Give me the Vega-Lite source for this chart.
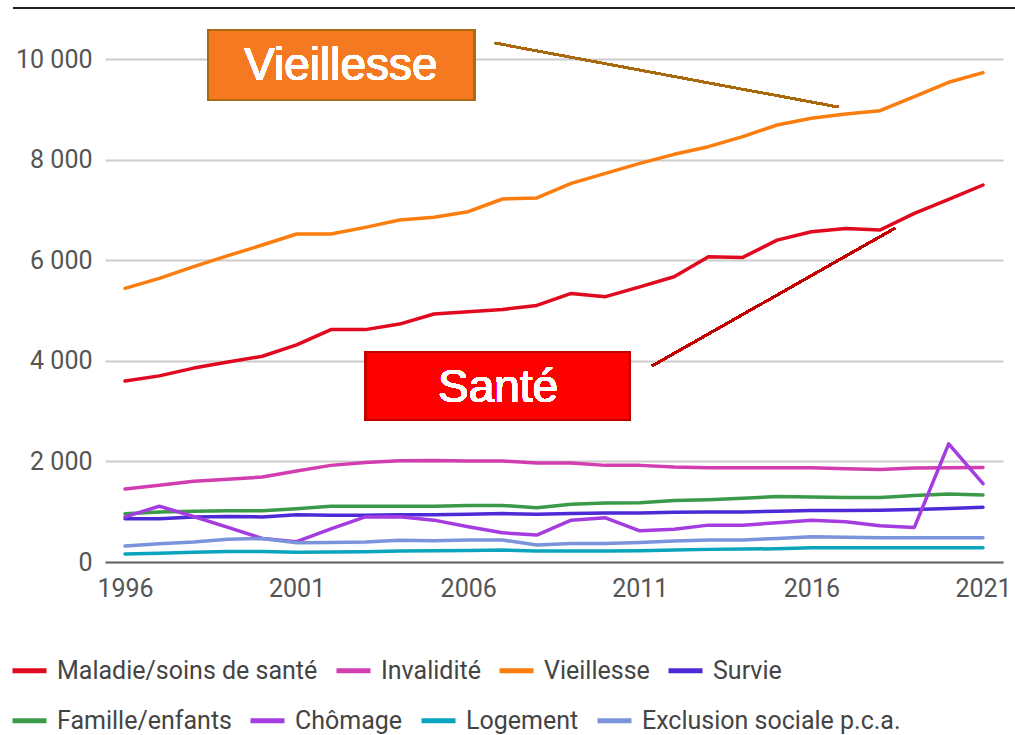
{
  "$schema": "https://vega.github.io/schema/vega-lite/v6.json",
  "autosize": {"type": "none"},
  "width": 898,
  "height": 503,
  "padding": {"left": 105, "top": 59, "right": 12, "bottom": 173},
  "background": "white",
  "config": {
    "view": {"stroke": null},
    "font": "Roboto",
    "legend": {
      "orient": "none",
      "direction": "horizontal",
      "symbolType": "stroke",
      "symbolSize": 1156,
      "symbolStrokeWidth": 5,
      "labelFont": "Roboto",
      "labelFontSize": 25,
      "labelColor": "#444444",
      "labelOffset": 8,
      "labelLimit": 500,
      "columnPadding": 8,
      "padding": 0,
      "symbolOpacity": 1
    }
  },
  "data": {
    "values": [
      {"year": 1996, "cat": "Maladie/soins de santé", "value": 3600},
      {"year": 1997, "cat": "Maladie/soins de santé", "value": 3700},
      {"year": 1998, "cat": "Maladie/soins de santé", "value": 3855},
      {"year": 1999, "cat": "Maladie/soins de santé", "value": 3975},
      {"year": 2000, "cat": "Maladie/soins de santé", "value": 4090},
      {"year": 2001, "cat": "Maladie/soins de santé", "value": 4315},
      {"year": 2002, "cat": "Maladie/soins de santé", "value": 4620},
      {"year": 2003, "cat": "Maladie/soins de santé", "value": 4620},
      {"year": 2004, "cat": "Maladie/soins de santé", "value": 4730},
      {"year": 2005, "cat": "Maladie/soins de santé", "value": 4930},
      {"year": 2006, "cat": "Maladie/soins de santé", "value": 4975},
      {"year": 2007, "cat": "Maladie/soins de santé", "value": 5020},
      {"year": 2008, "cat": "Maladie/soins de santé", "value": 5100},
      {"year": 2009, "cat": "Maladie/soins de santé", "value": 5340},
      {"year": 2010, "cat": "Maladie/soins de santé", "value": 5275},
      {"year": 2011, "cat": "Maladie/soins de santé", "value": 5470},
      {"year": 2012, "cat": "Maladie/soins de santé", "value": 5670},
      {"year": 2013, "cat": "Maladie/soins de santé", "value": 6070},
      {"year": 2014, "cat": "Maladie/soins de santé", "value": 6055},
      {"year": 2015, "cat": "Maladie/soins de santé", "value": 6400},
      {"year": 2016, "cat": "Maladie/soins de santé", "value": 6565},
      {"year": 2017, "cat": "Maladie/soins de santé", "value": 6630},
      {"year": 2018, "cat": "Maladie/soins de santé", "value": 6600},
      {"year": 2019, "cat": "Maladie/soins de santé", "value": 6930},
      {"year": 2020, "cat": "Maladie/soins de santé", "value": 7210},
      {"year": 2021, "cat": "Maladie/soins de santé", "value": 7495},
      {"year": 1996, "cat": "Invalidité", "value": 1452},
      {"year": 1997, "cat": "Invalidité", "value": 1524},
      {"year": 1998, "cat": "Invalidité", "value": 1604},
      {"year": 1999, "cat": "Invalidité", "value": 1644},
      {"year": 2000, "cat": "Invalidité", "value": 1690},
      {"year": 2001, "cat": "Invalidité", "value": 1808},
      {"year": 2002, "cat": "Invalidité", "value": 1921},
      {"year": 2003, "cat": "Invalidité", "value": 1980},
      {"year": 2004, "cat": "Invalidité", "value": 2014},
      {"year": 2005, "cat": "Invalidité", "value": 2020},
      {"year": 2006, "cat": "Invalidité", "value": 2007},
      {"year": 2007, "cat": "Invalidité", "value": 2007},
      {"year": 2008, "cat": "Invalidité", "value": 1967},
      {"year": 2009, "cat": "Invalidité", "value": 1967},
      {"year": 2010, "cat": "Invalidité", "value": 1921},
      {"year": 2011, "cat": "Invalidité", "value": 1921},
      {"year": 2012, "cat": "Invalidité", "value": 1888},
      {"year": 2013, "cat": "Invalidité", "value": 1875},
      {"year": 2014, "cat": "Invalidité", "value": 1875},
      {"year": 2015, "cat": "Invalidité", "value": 1875},
      {"year": 2016, "cat": "Invalidité", "value": 1875},
      {"year": 2017, "cat": "Invalidité", "value": 1855},
      {"year": 2018, "cat": "Invalidité", "value": 1841},
      {"year": 2019, "cat": "Invalidité", "value": 1868},
      {"year": 2020, "cat": "Invalidité", "value": 1875},
      {"year": 2021, "cat": "Invalidité", "value": 1881},
      {"year": 1996, "cat": "Vieillesse", "value": 5441},
      {"year": 1997, "cat": "Vieillesse", "value": 5640},
      {"year": 1998, "cat": "Vieillesse", "value": 5871},
      {"year": 1999, "cat": "Vieillesse", "value": 6090},
      {"year": 2000, "cat": "Vieillesse", "value": 6302},
      {"year": 2001, "cat": "Vieillesse", "value": 6521},
      {"year": 2002, "cat": "Vieillesse", "value": 6521},
      {"year": 2003, "cat": "Vieillesse", "value": 6653},
      {"year": 2004, "cat": "Vieillesse", "value": 6799},
      {"year": 2005, "cat": "Vieillesse", "value": 6852},
      {"year": 2006, "cat": "Vieillesse", "value": 6964},
      {"year": 2007, "cat": "Vieillesse", "value": 7217},
      {"year": 2008, "cat": "Vieillesse", "value": 7237},
      {"year": 2009, "cat": "Vieillesse", "value": 7528},
      {"year": 2010, "cat": "Vieillesse", "value": 7727},
      {"year": 2011, "cat": "Vieillesse", "value": 7926},
      {"year": 2012, "cat": "Vieillesse", "value": 8105},
      {"year": 2013, "cat": "Vieillesse", "value": 8257},
      {"year": 2014, "cat": "Vieillesse", "value": 8456},
      {"year": 2015, "cat": "Vieillesse", "value": 8688},
      {"year": 2016, "cat": "Vieillesse", "value": 8821},
      {"year": 2017, "cat": "Vieillesse", "value": 8907},
      {"year": 2018, "cat": "Vieillesse", "value": 8973},
      {"year": 2019, "cat": "Vieillesse", "value": 9251},
      {"year": 2020, "cat": "Vieillesse", "value": 9537},
      {"year": 2021, "cat": "Vieillesse", "value": 9728},
      {"year": 1996, "cat": "Survie", "value": 860},
      {"year": 1997, "cat": "Survie", "value": 860},
      {"year": 1998, "cat": "Survie", "value": 897},
      {"year": 1999, "cat": "Survie", "value": 906},
      {"year": 2000, "cat": "Survie", "value": 897},
      {"year": 2001, "cat": "Survie", "value": 937},
      {"year": 2002, "cat": "Survie", "value": 930},
      {"year": 2003, "cat": "Survie", "value": 930},
      {"year": 2004, "cat": "Survie", "value": 937},
      {"year": 2005, "cat": "Survie", "value": 937},
      {"year": 2006, "cat": "Survie", "value": 950},
      {"year": 2007, "cat": "Survie", "value": 963},
      {"year": 2008, "cat": "Survie", "value": 950},
      {"year": 2009, "cat": "Survie", "value": 963},
      {"year": 2010, "cat": "Survie", "value": 976},
      {"year": 2011, "cat": "Survie", "value": 976},
      {"year": 2012, "cat": "Survie", "value": 990},
      {"year": 2013, "cat": "Survie", "value": 996},
      {"year": 2014, "cat": "Survie", "value": 996},
      {"year": 2015, "cat": "Survie", "value": 1010},
      {"year": 2016, "cat": "Survie", "value": 1023},
      {"year": 2017, "cat": "Survie", "value": 1023},
      {"year": 2018, "cat": "Survie", "value": 1030},
      {"year": 2019, "cat": "Survie", "value": 1043},
      {"year": 2020, "cat": "Survie", "value": 1063},
      {"year": 2021, "cat": "Survie", "value": 1089},
      {"year": 1996, "cat": "Famille/enfants", "value": 960},
      {"year": 1997, "cat": "Famille/enfants", "value": 993},
      {"year": 1998, "cat": "Famille/enfants", "value": 1010},
      {"year": 1999, "cat": "Famille/enfants", "value": 1020},
      {"year": 2000, "cat": "Famille/enfants", "value": 1020},
      {"year": 2001, "cat": "Famille/enfants", "value": 1060},
      {"year": 2002, "cat": "Famille/enfants", "value": 1110},
      {"year": 2003, "cat": "Famille/enfants", "value": 1110},
      {"year": 2004, "cat": "Famille/enfants", "value": 1110},
      {"year": 2005, "cat": "Famille/enfants", "value": 1110},
      {"year": 2006, "cat": "Famille/enfants", "value": 1125},
      {"year": 2007, "cat": "Famille/enfants", "value": 1125},
      {"year": 2008, "cat": "Famille/enfants", "value": 1080},
      {"year": 2009, "cat": "Famille/enfants", "value": 1150},
      {"year": 2010, "cat": "Famille/enfants", "value": 1175},
      {"year": 2011, "cat": "Famille/enfants", "value": 1180},
      {"year": 2012, "cat": "Famille/enfants", "value": 1225},
      {"year": 2013, "cat": "Famille/enfants", "value": 1240},
      {"year": 2014, "cat": "Famille/enfants", "value": 1266},
      {"year": 2015, "cat": "Famille/enfants", "value": 1300},
      {"year": 2016, "cat": "Famille/enfants", "value": 1290},
      {"year": 2017, "cat": "Famille/enfants", "value": 1280},
      {"year": 2018, "cat": "Famille/enfants", "value": 1280},
      {"year": 2019, "cat": "Famille/enfants", "value": 1320},
      {"year": 2020, "cat": "Famille/enfants", "value": 1353},
      {"year": 2021, "cat": "Famille/enfants", "value": 1333},
      {"year": 1996, "cat": "Chômage", "value": 897},
      {"year": 1997, "cat": "Chômage", "value": 1109},
      {"year": 1998, "cat": "Chômage", "value": 904},
      {"year": 1999, "cat": "Chômage", "value": 687},
      {"year": 2000, "cat": "Chômage", "value": 469},
      {"year": 2001, "cat": "Chômage", "value": 403},
      {"year": 2002, "cat": "Chômage", "value": 657},
      {"year": 2003, "cat": "Chômage", "value": 897},
      {"year": 2004, "cat": "Chômage", "value": 900},
      {"year": 2005, "cat": "Chômage", "value": 832},
      {"year": 2006, "cat": "Chômage", "value": 700},
      {"year": 2007, "cat": "Chômage", "value": 581},
      {"year": 2008, "cat": "Chômage", "value": 535},
      {"year": 2009, "cat": "Chômage", "value": 832},
      {"year": 2010, "cat": "Chômage", "value": 878},
      {"year": 2011, "cat": "Chômage", "value": 620},
      {"year": 2012, "cat": "Chômage", "value": 653},
      {"year": 2013, "cat": "Chômage", "value": 733},
      {"year": 2014, "cat": "Chômage", "value": 733},
      {"year": 2015, "cat": "Chômage", "value": 779},
      {"year": 2016, "cat": "Chômage", "value": 832},
      {"year": 2017, "cat": "Chômage", "value": 799},
      {"year": 2018, "cat": "Chômage", "value": 719},
      {"year": 2019, "cat": "Chômage", "value": 687},
      {"year": 2020, "cat": "Chômage", "value": 2350},
      {"year": 2021, "cat": "Chômage", "value": 1558},
      {"year": 1996, "cat": "Logement", "value": 158},
      {"year": 1997, "cat": "Logement", "value": 172},
      {"year": 1998, "cat": "Logement", "value": 192},
      {"year": 1999, "cat": "Logement", "value": 211},
      {"year": 2000, "cat": "Logement", "value": 211},
      {"year": 2001, "cat": "Logement", "value": 192},
      {"year": 2002, "cat": "Logement", "value": 198},
      {"year": 2003, "cat": "Logement", "value": 205},
      {"year": 2004, "cat": "Logement", "value": 218},
      {"year": 2005, "cat": "Logement", "value": 225},
      {"year": 2006, "cat": "Logement", "value": 231},
      {"year": 2007, "cat": "Logement", "value": 238},
      {"year": 2008, "cat": "Logement", "value": 218},
      {"year": 2009, "cat": "Logement", "value": 218},
      {"year": 2010, "cat": "Logement", "value": 218},
      {"year": 2011, "cat": "Logement", "value": 225},
      {"year": 2012, "cat": "Logement", "value": 238},
      {"year": 2013, "cat": "Logement", "value": 251},
      {"year": 2014, "cat": "Logement", "value": 257},
      {"year": 2015, "cat": "Logement", "value": 264},
      {"year": 2016, "cat": "Logement", "value": 284},
      {"year": 2017, "cat": "Logement", "value": 284},
      {"year": 2018, "cat": "Logement", "value": 284},
      {"year": 2019, "cat": "Logement", "value": 284},
      {"year": 2020, "cat": "Logement", "value": 284},
      {"year": 2021, "cat": "Logement", "value": 284},
      {"year": 1996, "cat": "Exclusion sociale p.c.a.", "value": 317},
      {"year": 1997, "cat": "Exclusion sociale p.c.a.", "value": 364},
      {"year": 1998, "cat": "Exclusion sociale p.c.a.", "value": 397},
      {"year": 1999, "cat": "Exclusion sociale p.c.a.", "value": 450},
      {"year": 2000, "cat": "Exclusion sociale p.c.a.", "value": 469},
      {"year": 2001, "cat": "Exclusion sociale p.c.a.", "value": 383},
      {"year": 2002, "cat": "Exclusion sociale p.c.a.", "value": 390},
      {"year": 2003, "cat": "Exclusion sociale p.c.a.", "value": 397},
      {"year": 2004, "cat": "Exclusion sociale p.c.a.", "value": 430},
      {"year": 2005, "cat": "Exclusion sociale p.c.a.", "value": 423},
      {"year": 2006, "cat": "Exclusion sociale p.c.a.", "value": 437},
      {"year": 2007, "cat": "Exclusion sociale p.c.a.", "value": 437},
      {"year": 2008, "cat": "Exclusion sociale p.c.a.", "value": 337},
      {"year": 2009, "cat": "Exclusion sociale p.c.a.", "value": 370},
      {"year": 2010, "cat": "Exclusion sociale p.c.a.", "value": 370},
      {"year": 2011, "cat": "Exclusion sociale p.c.a.", "value": 390},
      {"year": 2012, "cat": "Exclusion sociale p.c.a.", "value": 417},
      {"year": 2013, "cat": "Exclusion sociale p.c.a.", "value": 437},
      {"year": 2014, "cat": "Exclusion sociale p.c.a.", "value": 437},
      {"year": 2015, "cat": "Exclusion sociale p.c.a.", "value": 469},
      {"year": 2016, "cat": "Exclusion sociale p.c.a.", "value": 502},
      {"year": 2017, "cat": "Exclusion sociale p.c.a.", "value": 490},
      {"year": 2018, "cat": "Exclusion sociale p.c.a.", "value": 483},
      {"year": 2019, "cat": "Exclusion sociale p.c.a.", "value": 483},
      {"year": 2020, "cat": "Exclusion sociale p.c.a.", "value": 483},
      {"year": 2021, "cat": "Exclusion sociale p.c.a.", "value": 483}
    ]
  },
  "encoding": {
    "x": {
      "field": "year",
      "type": "quantitative",
      "scale": {"domain": [1995.417, 2021.583], "nice": false, "zero": false},
      "axis": {
        "title": null,
        "values": [1996, 2001, 2006, 2011, 2016, 2021],
        "format": "d",
        "grid": false,
        "ticks": false,
        "domainColor": "#666666",
        "domainWidth": 2,
        "labelFont": "Roboto",
        "labelFontSize": 25,
        "labelColor": "#555555",
        "labelPadding": 14,
        "labelFlush": false
      }
    },
    "y": {
      "field": "value",
      "type": "quantitative",
      "scale": {"domain": [0, 10000], "nice": false},
      "axis": {
        "title": null,
        "values": [0, 2000, 4000, 6000, 8000, 10000],
        "labelExpr": "replace(format(datum.value, ','), ',', ' ')",
        "domain": false,
        "ticks": false,
        "gridColor": "#cccccc",
        "gridWidth": 2,
        "labelFont": "Roboto",
        "labelFontSize": 25,
        "labelColor": "#555555",
        "labelPadding": 13
      }
    }
  },
  "layer": [
    {
      "transform": [{"filter": {"field": "cat", "oneOf": ["Maladie/soins de santé", "Invalidité", "Vieillesse", "Survie"]}}],
      "mark": {"type": "line", "strokeWidth": 3.5, "strokeCap": "round", "strokeJoin": "round"},
      "encoding": {
        "color": {
          "field": "cat",
          "type": "nominal",
          "scale": {"domain": ["Maladie/soins de santé", "Invalidité", "Vieillesse", "Survie"], "range": ["#E0091F", "#D23DAF", "#FB7D0E", "#4C2AD6"]},
          "legend": {"title": null, "legendX": -95, "legendY": 592}
        }
      }
    },
    {
      "transform": [{"filter": {"field": "cat", "oneOf": ["Famille/enfants", "Chômage", "Logement", "Exclusion sociale p.c.a."]}}],
      "mark": {"type": "line", "strokeWidth": 3.5, "strokeCap": "round", "strokeJoin": "round"},
      "encoding": {
        "stroke": {
          "field": "cat",
          "type": "nominal",
          "scale": {"domain": ["Famille/enfants", "Chômage", "Logement", "Exclusion sociale p.c.a."], "range": ["#3A9A4A", "#A43CE0", "#0AA5BC", "#7A93DA"]},
          "legend": {"title": null, "legendX": -95, "legendY": 642}
        }
      }
    },
    {
      "mark": {"type": "rule", "color": "#222222", "strokeWidth": 2},
      "encoding": {
        "x": {"datum": 1992.74},
        "x2": {"datum": 2021.93},
        "y": {"datum": 11014}
      }
    },
    {
      "mark": {"type": "rect", "fill": "#F47920", "stroke": "#A86B14", "strokeWidth": 2},
      "encoding": {
        "x": {"datum": 1998.42},
        "x2": {"datum": 2006.17},
        "y": {"datum": 10577},
        "y2": {"datum": 9185}
      }
    },
    {
      "mark": {"type": "text", "text": "Vieillesse", "font": "Liberation Sans", "fontSize": 46, "color": "white", "align": "center", "baseline": "middle"},
      "encoding": {
        "x": {"datum": 2002.29},
        "y": {"datum": 9861}
      }
    },
    {
      "mark": {"type": "rule", "color": "#A86A10", "strokeWidth": 2},
      "encoding": {
        "x": {"datum": 2006.78},
        "y": {"datum": 10318},
        "x2": {"datum": 2016.78},
        "y2": {"datum": 9046}
      }
    },
    {
      "mark": {"type": "rect", "fill": "#FF0000", "stroke": "#C00000", "strokeWidth": 2},
      "encoding": {
        "x": {"datum": 2003.02},
        "x2": {"datum": 2010.71},
        "y": {"datum": 4175},
        "y2": {"datum": 2823}
      }
    },
    {
      "mark": {"type": "text", "text": "Santé", "font": "Liberation Sans", "fontSize": 46, "color": "white", "align": "center", "baseline": "middle"},
      "encoding": {
        "x": {"datum": 2006.87},
        "y": {"datum": 3459}
      }
    },
    {
      "mark": {"type": "rule", "color": "#C00000", "strokeWidth": 2},
      "encoding": {
        "x": {"datum": 2011.36},
        "y": {"datum": 3897},
        "x2": {"datum": 2018.44},
        "y2": {"datum": 6640}
      }
    }
  ]
}
